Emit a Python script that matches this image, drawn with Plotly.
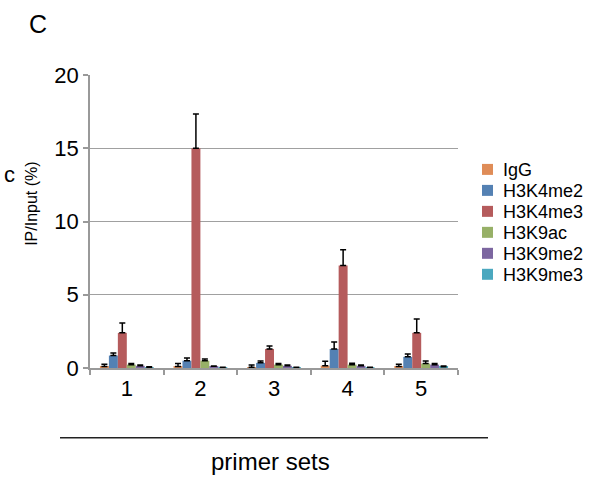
import plotly.graph_objects as go

categories = ["1", "2", "3", "4", "5"]
series_names = ["IgG", "H3K4me2", "H3K4me3", "H3K9ac", "H3K9me2", "H3K9me3"]
igg = [0.10, 0.10, 0.05, 0.16, 0.10]
igg_err = [0.15, 0.20, 0.15, 0.30, 0.15]
h3k4me2 = [0.85, 0.50, 0.35, 1.30, 0.76]
h3k4me2_err = [0.18, 0.18, 0.13, 0.47, 0.20]
h3k4me3 = [2.40, 15.0, 1.30, 7.0, 2.40]
h3k4me3_err = [0.68, 2.33, 0.20, 1.08, 0.95]
h3k9ac = [0.23, 0.50, 0.23, 0.23, 0.30]
h3k9ac_err = [0.08, 0.12, 0.08, 0.10, 0.18]
h3k9me2 = [0.15, 0.12, 0.15, 0.15, 0.23]
h3k9me2_err = [0.05, 0.02, 0.05, 0.05, 0.08]
h3k9me3 = [0.05, 0.03, 0.03, 0.03, 0.08]
h3k9me3_err = [0.04, 0.02, 0.02, 0.02, 0.05]

values = [igg, h3k4me2, h3k4me3, h3k9ac, h3k9me2, h3k9me3]
errors = [igg_err, h3k4me2_err, h3k4me3_err, h3k9ac_err, h3k9me2_err, h3k9me3_err]
colors = ["#DF8C57", "#5481B3", "#B55B5C", "#97B067", "#7C66A0", "#4BA8BF"]

FONT = "Liberation Sans, Arial, Helvetica, sans-serif"

fig = go.Figure()
for name, vals, errs, col in zip(series_names, values, errors, colors):
    fig.add_trace(go.Bar(
        name=name, x=categories, y=vals,
        marker=dict(color=col, line=dict(width=0)),
        error_y=dict(type="data", symmetric=False, array=errs,
                     arrayminus=[0] * len(errs), color="black",
                     thickness=1.5, width=3),
    ))

fig.update_layout(
    width=614, height=478,
    margin=dict(l=90, r=156, t=75, b=110),
    paper_bgcolor="white", plot_bgcolor="white",
    barmode="group", bargap=0.27, bargroupgap=0,
    font=dict(family=FONT, color="black"),
    showlegend=False,
    xaxis=dict(showline=True, linecolor="#999999", linewidth=1.5,
               ticks="outside", tickson="boundaries", ticklen=5,
               tickcolor="#999999", tickwidth=1.5,
               tickfont=dict(size=22, family=FONT), showgrid=False),
    yaxis=dict(range=[0, 20], tickvals=[0, 5, 10, 15, 20],
               showline=True, linecolor="#999999", linewidth=1.5,
               ticks="outside", ticklen=5, tickcolor="#999999", tickwidth=1.5,
               showgrid=True, gridcolor="#A0A0A0", gridwidth=1.2,
               zeroline=False, tickfont=dict(size=22, family=FONT)),
)

# manual legend (swatch + label), positions in paper units
def px_x(px):
    return (px - 90) / 368.0

def px_y(py):
    return (368.3 - py) / 293.3

for i, (name, col) in enumerate(zip(series_names, colors)):
    cy = 169.5 + 21.0 * i
    fig.add_shape(type="rect", xref="paper", yref="paper",
                  x0=px_x(482), x1=px_x(493), y0=px_y(cy - 5.5), y1=px_y(cy + 5.5),
                  fillcolor=col, line=dict(width=0))
    fig.add_annotation(text=name, xref="paper", yref="paper",
                       x=px_x(501), y=px_y(cy + 1), xanchor="left", yanchor="middle",
                       showarrow=False, font=dict(size=18, family=FONT))

fig.add_shape(type="line", xref="paper", yref="paper",
              x0=px_x(60), x1=px_x(488), y0=px_y(438), y1=px_y(438),
              line=dict(color="#222222", width=1.5))

fig.add_annotation(text="primer sets", xref="paper", yref="paper",
                   x=px_x(270), y=px_y(462), xanchor="center", yanchor="middle",
                   showarrow=False, font=dict(size=24, family=FONT))
fig.add_annotation(text="IP/Input (%)", xref="paper", yref="paper",
                   x=px_x(32), y=px_y(204), xanchor="center", yanchor="middle",
                   showarrow=False, textangle=-90,
                   font=dict(size=16, family=FONT))
fig.add_annotation(text="C", xref="paper", yref="paper",
                   x=px_x(38), y=px_y(24), xanchor="center", yanchor="middle",
                   showarrow=False, font=dict(size=25, family=FONT))
fig.add_annotation(text="c", xref="paper", yref="paper",
                   x=px_x(9), y=px_y(175), xanchor="center", yanchor="middle",
                   showarrow=False, font=dict(size=22, family=FONT))

fig.write_html("out.html")
